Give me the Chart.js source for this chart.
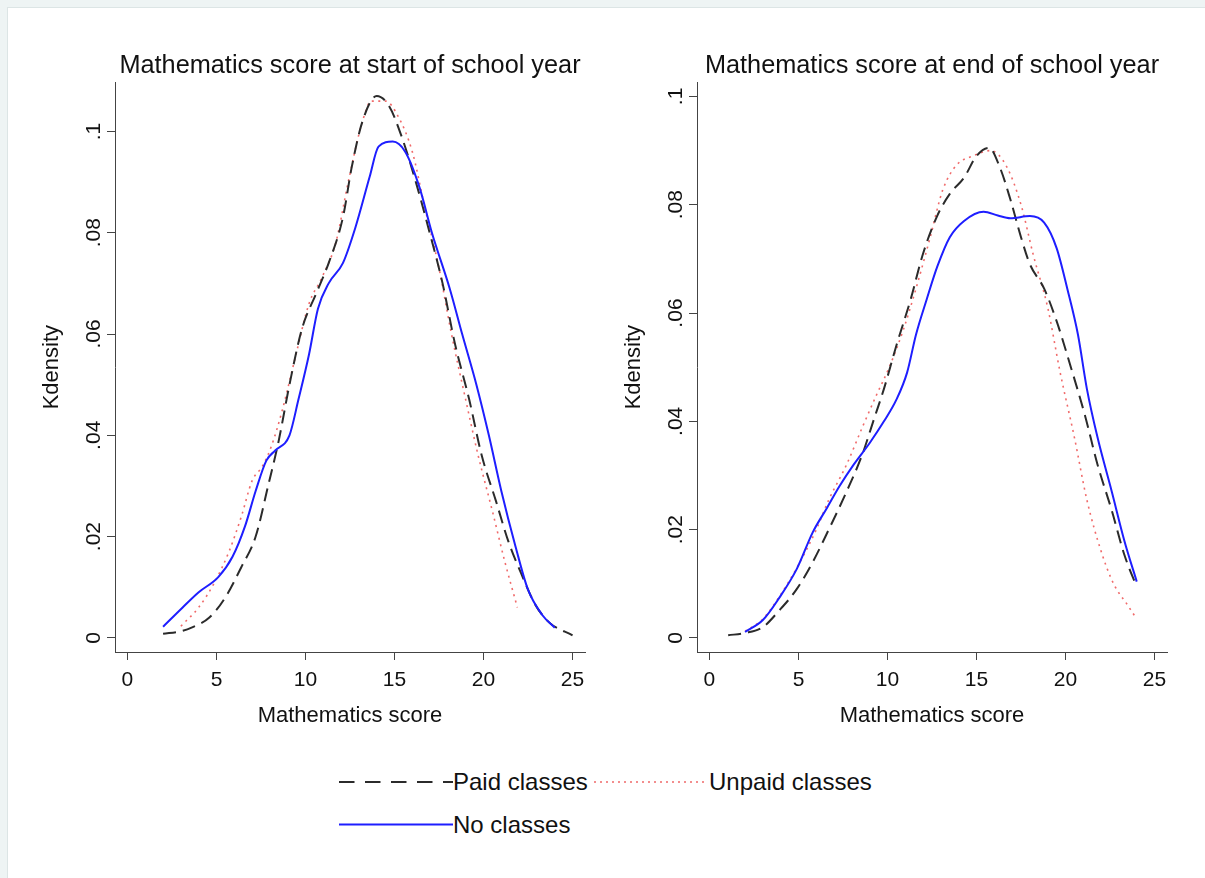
<!DOCTYPE html>
<html>
<head>
<meta charset="utf-8">
<script src="https://cdn.jsdelivr.net/npm/chart.js@4.4.0/dist/chart.umd.min.js"></script>
<style>
  html, body { margin: 0; padding: 0; }
  body { width: 1205px; height: 878px; background: #eef4f4; position: relative; overflow: hidden; font-family: "Liberation Sans", Arial, sans-serif; }
  #sheet { position: absolute; left: 7px; top: 7px; right: 0; bottom: 0; background: #fff; border-left: 1px solid #dce5e5; border-top: 1px solid #dce5e5; }
  canvas { position: absolute; top: 0; }
  #start { left: 0; }
  #end { left: 582px; }
  #legend { position: absolute; left: 0; top: 740px; }
  #legend text { font-family: "Liberation Sans", Arial, sans-serif; font-size: 24px; fill: #111; }
</style>
</head>
<body>
<div id="sheet"></div>
<canvas id="start" width="600" height="740"></canvas>
<canvas id="end" width="600" height="740"></canvas>
<svg id="legend" width="1205" height="138">
  <line x1="339" y1="42" x2="453" y2="42" stroke="#2b2b2b" stroke-width="2" stroke-dasharray="15.5 10.5"/>
  <text x="453" y="49.5">Paid classes</text>
  <line x1="594" y1="42" x2="708" y2="42" stroke="#f06a6a" stroke-width="1.6" stroke-dasharray="2 4"/>
  <text x="709" y="49.5">Unpaid classes</text>
  <line x1="339" y1="84.5" x2="453" y2="84.5" stroke="#1e1eff" stroke-width="2"/>
  <text x="453" y="93">No classes</text>
</svg>
<script>
// tick labels
const xTicks = [0, 5, 10, 15, 20, 25];
const yTicks = [0, 0.02, 0.04, 0.06, 0.08, 0.1];

// start of school year (score, density)
const startPaidX = [2.0, 3.0, 3.6, 4.6, 5.5, 6.4, 7.2, 7.9, 8.5, 9.1, 9.8, 10.6, 11.3, 12.1, 12.6, 13.2, 14.0, 14.7, 15.4, 16.2, 16.9, 17.7, 18.4, 19.2, 19.9, 20.7, 21.4, 22.2, 22.9, 23.7, 25.0];
const startPaidY = [0.0008, 0.0013, 0.002, 0.004, 0.008, 0.014, 0.020, 0.030, 0.039, 0.050, 0.061, 0.068, 0.074, 0.083, 0.093, 0.102, 0.107, 0.105, 0.099, 0.090, 0.081, 0.070, 0.058, 0.047, 0.036, 0.027, 0.019, 0.012, 0.0066, 0.003, 0.0005];
const startUnpaidX = [3.0, 4.0, 4.9, 5.7, 6.4, 7.0, 7.6, 8.1, 8.7, 9.4, 10.2, 10.9, 11.7, 12.4, 13.2, 13.7, 14.5, 15.2, 16.0, 16.7, 17.5, 18.2, 19.0, 19.7, 20.5, 21.2, 21.9];
const startUnpaidY = [0.0023, 0.006, 0.011, 0.017, 0.024, 0.031, 0.034, 0.038, 0.045, 0.055, 0.066, 0.071, 0.078, 0.090, 0.102, 0.106, 0.106, 0.103, 0.096, 0.085, 0.073, 0.060, 0.047, 0.036, 0.025, 0.015, 0.006];
const startNoneX = [2.0, 3.1, 4.0, 5.1, 5.9, 6.6, 7.2, 7.8, 8.3, 9.1, 9.6, 10.2, 10.7, 11.3, 12.1, 12.8, 13.6, 14.1, 14.9, 15.6, 16.4, 17.1, 18.1, 18.8, 19.6, 20.3, 21.0, 21.8, 22.5, 23.3, 24.0];
const startNoneY = [0.0022, 0.006, 0.009, 0.012, 0.016, 0.022, 0.029, 0.035, 0.037, 0.040, 0.047, 0.056, 0.065, 0.070, 0.074, 0.081, 0.091, 0.097, 0.098, 0.096, 0.089, 0.080, 0.069, 0.060, 0.050, 0.040, 0.029, 0.018, 0.0095, 0.0045, 0.002];

// end of school year (score, density)
const endPaidX = [1.05, 2.0, 3.0, 3.9, 4.9, 5.8, 6.7, 7.7, 8.6, 9.2, 9.8, 10.5, 11.3, 12.0, 12.8, 13.5, 14.3, 15.0, 15.7, 16.3, 16.9, 17.5, 18.0, 18.8, 19.5, 20.3, 21.1, 21.8, 22.6, 23.3, 24.0];
const endPaidY = [0.0005, 0.0009, 0.002, 0.005, 0.009, 0.014, 0.020, 0.027, 0.034, 0.040, 0.046, 0.054, 0.0625, 0.071, 0.078, 0.082, 0.085, 0.089, 0.0905, 0.087, 0.081, 0.074, 0.069, 0.0645, 0.0585, 0.050, 0.041, 0.032, 0.0235, 0.0154, 0.0094];
const endUnpaidX = [2.0, 3.0, 4.0, 5.0, 6.0, 6.7, 7.7, 8.6, 9.4, 10.1, 10.9, 11.6, 12.4, 13.1, 13.9, 14.8, 15.8, 16.7, 17.5, 18.2, 19.0, 19.7, 20.5, 21.2, 22.0, 22.7, 23.5, 23.9];
const endUnpaidY = [0.0012, 0.0035, 0.008, 0.0135, 0.020, 0.0255, 0.032, 0.039, 0.045, 0.050, 0.057, 0.0645, 0.074, 0.0827, 0.0874, 0.089, 0.090, 0.087, 0.080, 0.0706, 0.061, 0.049, 0.037, 0.0255, 0.016, 0.010, 0.006, 0.004];
const endNoneX = [2.0, 3.0, 3.9, 4.9, 5.8, 6.6, 7.3, 8.1, 9.0, 9.8, 10.5, 11.1, 11.6, 12.2, 12.8, 13.5, 14.3, 15.4, 16.2, 16.9, 18.0, 18.8, 19.5, 20.1, 20.7, 21.2, 21.8, 22.6, 23.3, 24.0];
const endNoneY = [0.0011, 0.0033, 0.0073, 0.0127, 0.0195, 0.024, 0.028, 0.032, 0.036, 0.040, 0.044, 0.049, 0.056, 0.0625, 0.0686, 0.074, 0.077, 0.0787, 0.078, 0.0775, 0.0779, 0.0767, 0.072, 0.0645, 0.056, 0.046, 0.037, 0.027, 0.018, 0.0104];

Chart.defaults.font.family = '"Liberation Sans", Arial, sans-serif';
Chart.defaults.color = '#111';

const pts = (xs, ys) => xs.map((x, i) => ({ x: x, y: ys[i] }));
const fmt = v => v === 0 ? '0' : v.toFixed(2).replace(/0+$/, '').replace(/^0/, '');

// Stata style: y tick labels turned on their side
const sideLabels = {
  id: 'sideLabels',
  afterDraw(chart) {
    const y = chart.scales.y;
    const ctx = chart.ctx;
    ctx.save();
    ctx.font = '21px "Liberation Sans", Arial, sans-serif';
    ctx.fillStyle = '#111';
    ctx.textAlign = 'center';
    ctx.textBaseline = 'middle';
    y.ticks.forEach(t => {
      ctx.save();
      ctx.translate(y.right - 21, y.getPixelForValue(t.value));
      ctx.rotate(-Math.PI / 2);
      ctx.fillText(fmt(t.value), 0, 0);
      ctx.restore();
    });
    ctx.restore();
  }
};

const axisLine = { display: true, color: '#444', width: 1 };
const tickMarks = { display: true, drawOnChartArea: false, drawTicks: true, tickLength: 8, color: '#444', lineWidth: 1 };

function makeChart(id, title, paid, unpaid, none, yMin, yMax) {
  return new Chart(document.getElementById(id), {
    type: 'line',
    data: {
      datasets: [
        { label: 'No classes', data: none, borderColor: '#1e1eff', borderWidth: 2, order: 0 },
        { label: 'Paid classes', data: paid, borderColor: '#2b2b2b', borderWidth: 2, borderDash: [13, 7], order: 1 },
        { label: 'Unpaid classes', data: unpaid, borderColor: '#f06a6a', borderWidth: 1.6, borderDash: [2, 4.5], order: 2 }
      ]
    },
    options: {
      responsive: false,
      animation: false,
      layout: { padding: { left: 0, right: 15, top: 0, bottom: 0 } },
      elements: {
        point: { radius: 0 },
        line: { tension: 0.4, cubicInterpolationMode: 'monotone', fill: false }
      },
      plugins: {
        legend: { display: false },
        tooltip: { enabled: false },
        title: {
          display: true, text: title, fullSize: false, color: '#111',
          font: { size: 25.3, weight: 'normal' },
          padding: { top: 51, bottom: 1 }
        }
      },
      scales: {
        x: {
          type: 'linear', min: -0.7, max: 25.7,
          afterBuildTicks: s => { s.ticks = xTicks.map(v => ({ value: v })); },
          afterFit: s => { s.height = 88; },
          grid: tickMarks, border: axisLine,
          ticks: { color: '#111', font: { size: 21 }, padding: 8, maxRotation: 0 },
          title: { display: true, text: 'Mathematics score', color: '#111', font: { size: 22 }, padding: { top: 0, bottom: 11 } }
        },
        y: {
          type: 'linear', min: yMin, max: yMax,
          afterBuildTicks: s => { s.ticks = yTicks.map(v => ({ value: v })); },
          afterFit: s => { s.width = 115; },
          grid: tickMarks, border: axisLine,
          ticks: { display: false },
          title: { display: true, text: 'Kdensity', color: '#111', font: { size: 22 }, padding: { top: 39, bottom: 0 } }
        }
      }
    },
    plugins: [sideLabels]
  });
}

makeChart('start', 'Mathematics score at start of school year',
  pts(startPaidX, startPaidY), pts(startUnpaidX, startUnpaidY), pts(startNoneX, startNoneY), -0.0028, 0.1097);
makeChart('end', 'Mathematics score at end of school year',
  pts(endPaidX, endPaidY), pts(endUnpaidX, endUnpaidY), pts(endNoneX, endNoneY), -0.0026, 0.1026);
</script>
</body>
</html>
